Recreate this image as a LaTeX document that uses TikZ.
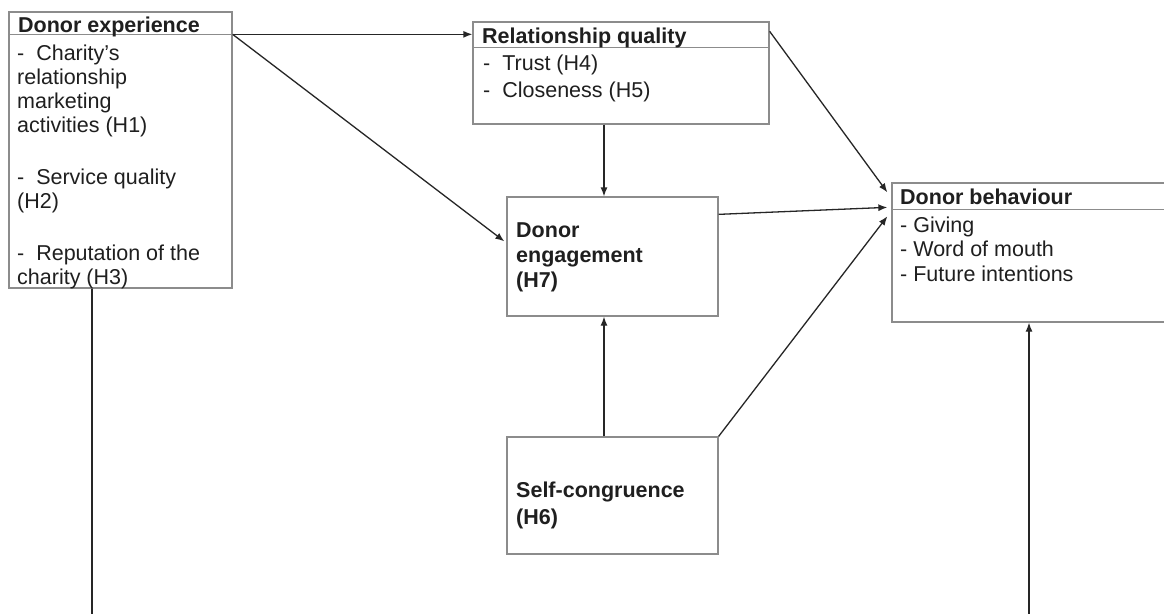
\documentclass[tikz,border=0pt]{standalone}
\usepackage{fontspec}
\setmainfont{Liberation Sans}
\usetikzlibrary{calc,arrows.meta}
\definecolor{boxgray}{gray}{0.55}
\definecolor{linegray}{gray}{0.15}
\tikzset{
  box/.style={draw=boxgray, line width=1.3pt, inner sep=0pt},
  sepline/.style={draw=boxgray, line width=1.3pt},
  conn/.style={draw=linegray, line width=1.3pt, -{Latex[length=9pt,width=7pt]}},
  plain/.style={draw=linegray, line width=1.3pt},
  txt/.style={anchor=north west, inner sep=0pt, align=left, text=black!88,
    font=\fontsize{21.5}{#1}\selectfont},
  txt/.default=24,
}
\begin{document}
\begin{tikzpicture}[x=1pt, y=-1pt]
  \clip (0,0) rectangle (1164,613);
  \fill[white] (0,0) rectangle (1164,613);

  % boxes
  \node[box, minimum width=223pt, minimum height=276pt] (de)  at (120.5,150) {};
  \node[box, minimum width=296pt, minimum height=102pt] (rq)  at (621,73) {};
  \node[box, minimum width=211pt, minimum height=119pt] (eng) at (612.5,256.5) {};
  \node[box, minimum width=211pt, minimum height=117pt] (sc)  at (612.5,495.5) {};
  \node[box, minimum width=288pt, minimum height=139pt] (db)  at (1036,252.5) {};

  % header separators
  \coordinate (de-hr) at ($(de.north east)+(0,23)$);
  \coordinate (rq-hr) at ($(rq.north east)+(0,26)$);
  \coordinate (db-hl) at ($(db.north west)+(0,27)$);
  \draw[sepline] (de.west |- de-hr) -- (de-hr);
  \draw[sepline] (rq.west |- rq-hr) -- (rq-hr);
  \draw[sepline] (db-hl) -- (db.east |- db-hl);

  % texts
  \node[txt] (de-t) at (18,15.2) {\strut\bfseries Donor experience};
  \node[txt] (de-i) at (17,43.2) {\strut-~~Charity’s\\ relationship\\ marketing\\ activities (H1)\\[28pt]
    -~~Service quality\\ (H2)\\[28pt] -~~Reputation of the\\ charity (H3)};
  \node[txt] (rq-t) at (482,26.2) {\strut\bfseries Relationship quality};
  \node[txt=27] (rq-i) at (483,51.1) {\strut-~~Trust (H4)\\ -~~Closeness (H5)};
  \node[txt=25] (eng-t) at (516,219.5) {\strut\bfseries Donor\\ \bfseries engagement\\ \bfseries (H7)};
  \node[txt=27] (sc-t) at (516,478.1) {\strut\bfseries Self-congruence\\ \bfseries (H6)};
  \node[txt] (db-t) at (900,187.2) {\strut\bfseries Donor behaviour};
  \node[txt=24.5] (db-i) at (900,214.85) {\strut- Giving\\ - Word of mouth\\ - Future intentions};

  % connectors
  \coordinate (col) at (604,0);
  \coordinate (de-down) at (92,620);
  \coordinate (db-up) at (1029,620);
  \draw[conn] (de-hr) -- (rq.west |- de-hr);
  \draw[conn] (de-hr) -- ($(eng.north west)+(-2,45)$);
  \draw[conn] ($(rq.north east)+(0,10)$) -- ($(db.north west)+(-4,10)$);
  \draw[conn] (rq.south -| col) -- (eng.north -| col);
  \draw[conn] ($(eng.north east)+(0,18)$) -- ($(db.north west)+(-4,25)$);
  \draw[conn] (sc.north east) -- ($(db.north west)+(-4,34)$);
  \draw[conn] (sc.north -| col) -- (eng.south -| col);
  \draw[plain] (de.south -| de-down) -- (de-down);
  \draw[conn] (db-up) -- (db.south -| db-up);
\end{tikzpicture}
\end{document}
